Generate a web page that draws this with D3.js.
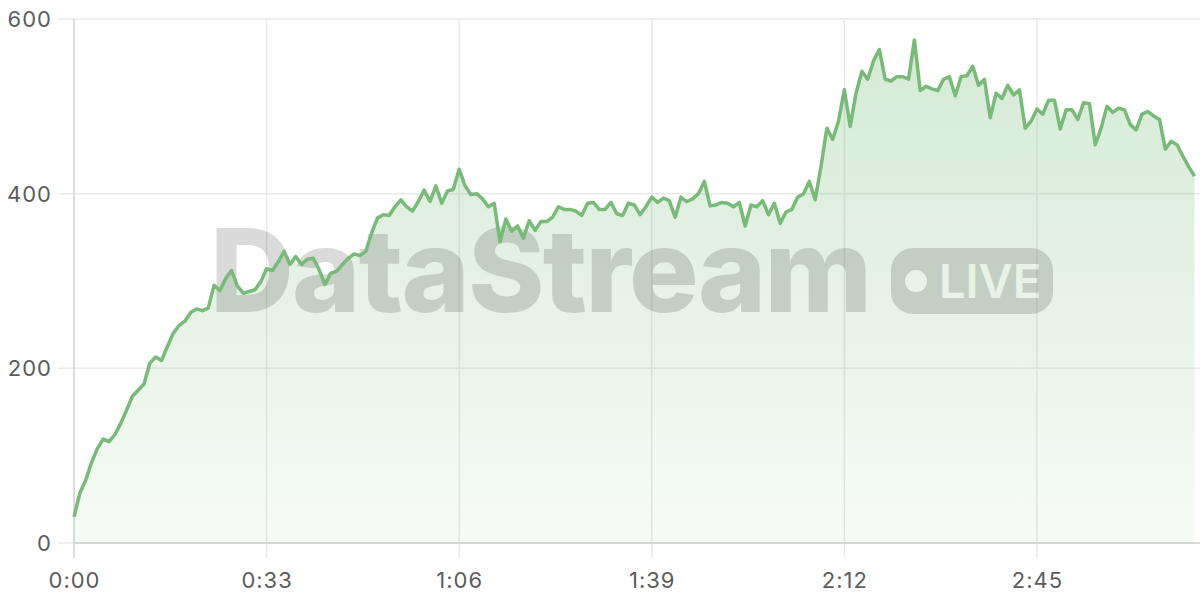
<!DOCTYPE html>
<html>
<head>
<meta charset="utf-8">
<script src="https://cdn.jsdelivr.net/npm/d3@7"></script>
<style>
  html, body { margin: 0; padding: 0; background: #fff; }
  svg { display: block; }
</style>
</head>
<body>
<svg id="chart" width="1200" height="600"></svg>
<script>
// seconds since start (one sample per second)
const seconds = d3.range(0, 193);
const values = [
  30, 57, 72, 92, 108, 119, 116, 124, 137, 152, 168, 175, 182, 206, 213, 209, 225, 240, 249, 254,
  264, 268, 266, 269, 295, 289, 303, 312, 294, 286, 288, 290, 299, 314, 312, 322, 334, 319, 328, 319,
  325, 326, 313, 296, 309, 311, 319, 326, 331, 329, 334, 355, 372, 376, 375, 385, 393, 385, 380, 391,
  404, 391, 409, 389, 403, 405, 428, 409, 399, 400, 394, 385, 389, 345, 371, 357, 363, 349, 369, 358,
  368, 368, 373, 385, 382, 382, 380, 375, 389, 390, 382, 382, 390, 377, 375, 389, 387, 376, 385, 396,
  390, 395, 392, 373, 396, 391, 394, 400, 414, 386, 387, 390, 389, 385, 390, 363, 387, 385, 392, 376,
  389, 366, 379, 382, 396, 400, 414, 393, 431, 475, 462, 483, 519, 477, 515, 540, 531, 552, 565, 531,
  529, 534, 534, 531, 576, 518, 523, 520, 518, 531, 534, 512, 534, 535, 546, 524, 531, 487, 515, 509,
  524, 513, 519, 475, 483, 497, 491, 507, 507, 474, 496, 496, 485, 504, 503, 456, 475, 500, 493, 498,
  496, 479, 473, 491, 494, 489, 485, 451, 460, 456, 443, 431, 420
];
const xTicks = [0, 33, 66, 99, 132, 165];
const yTicks = [0, 200, 400, 600];
const watermarkText = "DataStream";
const badgeText = "LIVE";

const data = seconds.map((s, i) => ({ s, v: values[i] }));

const svg = d3.select("#chart");
const mLeft = 74, mRight = 1194.5, mTop = 19, mBottom = 543;

const x = d3.scaleLinear().domain([0, 192]).range([mLeft, mRight]);
const y = d3.scaleLinear().domain([0, 600]).range([mBottom, mTop]);

const fmt = s => Math.floor(s / 60) + ":" + String(s % 60).padStart(2, "0");

// gradient
const defs = svg.append("defs");
const grad = defs.append("linearGradient").attr("id", "areaGrad")
  .attr("gradientUnits", "userSpaceOnUse")
  .attr("x1", 0).attr("x2", 0).attr("y1", y(600)).attr("y2", y(0));
grad.append("stop").attr("offset", "0%").attr("stop-color", "#76bb76").attr("stop-opacity", 0.32);
grad.append("stop").attr("offset", "100%").attr("stop-color", "#76bb76").attr("stop-opacity", 0.06);

// horizontal grid
svg.append("g").selectAll("line").data(yTicks).join("line")
  .attr("x1", mLeft - 16).attr("x2", 1200)
  .attr("y1", d => y(d)).attr("y2", d => y(d))
  .attr("stroke", "#e9e9e9").attr("stroke-width", 1.5);

// vertical grid
svg.append("g").selectAll("line").data(xTicks).join("line")
  .attr("x1", d => x(d)).attr("x2", d => x(d))
  .attr("y1", mTop).attr("y2", mBottom + 15)
  .attr("stroke", "#e9e9e9").attr("stroke-width", 1.5);

// axis lines
svg.append("line").attr("x1", mLeft).attr("x2", mLeft).attr("y1", mTop).attr("y2", mBottom + 15)
  .attr("stroke", "#d6d6d6").attr("stroke-width", 1.5);
svg.append("line").attr("x1", mLeft).attr("x2", 1200).attr("y1", mBottom).attr("y2", mBottom)
  .attr("stroke", "#d0d0d0").attr("stroke-width", 1.5);

// area
svg.append("path").datum(data)
  .attr("fill", "url(#areaGrad)")
  .attr("d", d3.area().x(d => x(d.s)).y0(y(0)).y1(d => y(d.v)));

// watermark
const wm = svg.append("g").attr("opacity", 0.14);
wm.append("text")
  .attr("x", 210).attr("y", 312)
  .attr("font-family", "Inter, 'DejaVu Sans', sans-serif")
  .attr("font-weight", 800)
  .attr("font-size", 116)
  .attr("letter-spacing", -1.8)
  .attr("fill", "#000")
  .text(watermarkText);
wm.append("rect").attr("x", 891).attr("y", 248).attr("width", 162).attr("height", 66)
  .attr("rx", 22).attr("fill", "#000");
wm.append("circle").attr("cx", 916).attr("cy", 281).attr("r", 11).attr("fill", "#fff");
wm.append("text")
  .attr("x", 939).attr("y", 298)
  .attr("font-family", "Inter, 'DejaVu Sans', sans-serif")
  .attr("font-weight", 600)
  .attr("font-size", 47)
  .attr("fill", "#fff")
  .text(badgeText);

// line
svg.append("path").datum(data)
  .attr("fill", "none")
  .attr("stroke", "#76bb76")
  .attr("stroke-width", 3.5)
  .attr("stroke-linejoin", "round")
  .attr("d", d3.line().x(d => x(d.s)).y(d => y(d.v)));

// y labels
svg.append("g").selectAll("text").data(yTicks).join("text")
  .attr("x", 52).attr("y", d => y(d))
  .attr("dy", "0.36em")
  .attr("text-anchor", "end")
  .attr("font-family", "Inter, sans-serif")
  .attr("font-size", 22)
  .attr("letter-spacing", 1)
  .attr("fill", "#5c5c5c")
  .text(d => d);

// x labels
svg.append("g").selectAll("text").data(xTicks).join("text")
  .attr("x", d => x(d) + 0.5).attr("y", 588)
  .attr("text-anchor", "middle")
  .attr("font-family", "Inter, sans-serif")
  .attr("font-size", 22)
  .attr("letter-spacing", 1)
  .attr("fill", "#5c5c5c")
  .text(d => fmt(d));
</script>
</body>
</html>
